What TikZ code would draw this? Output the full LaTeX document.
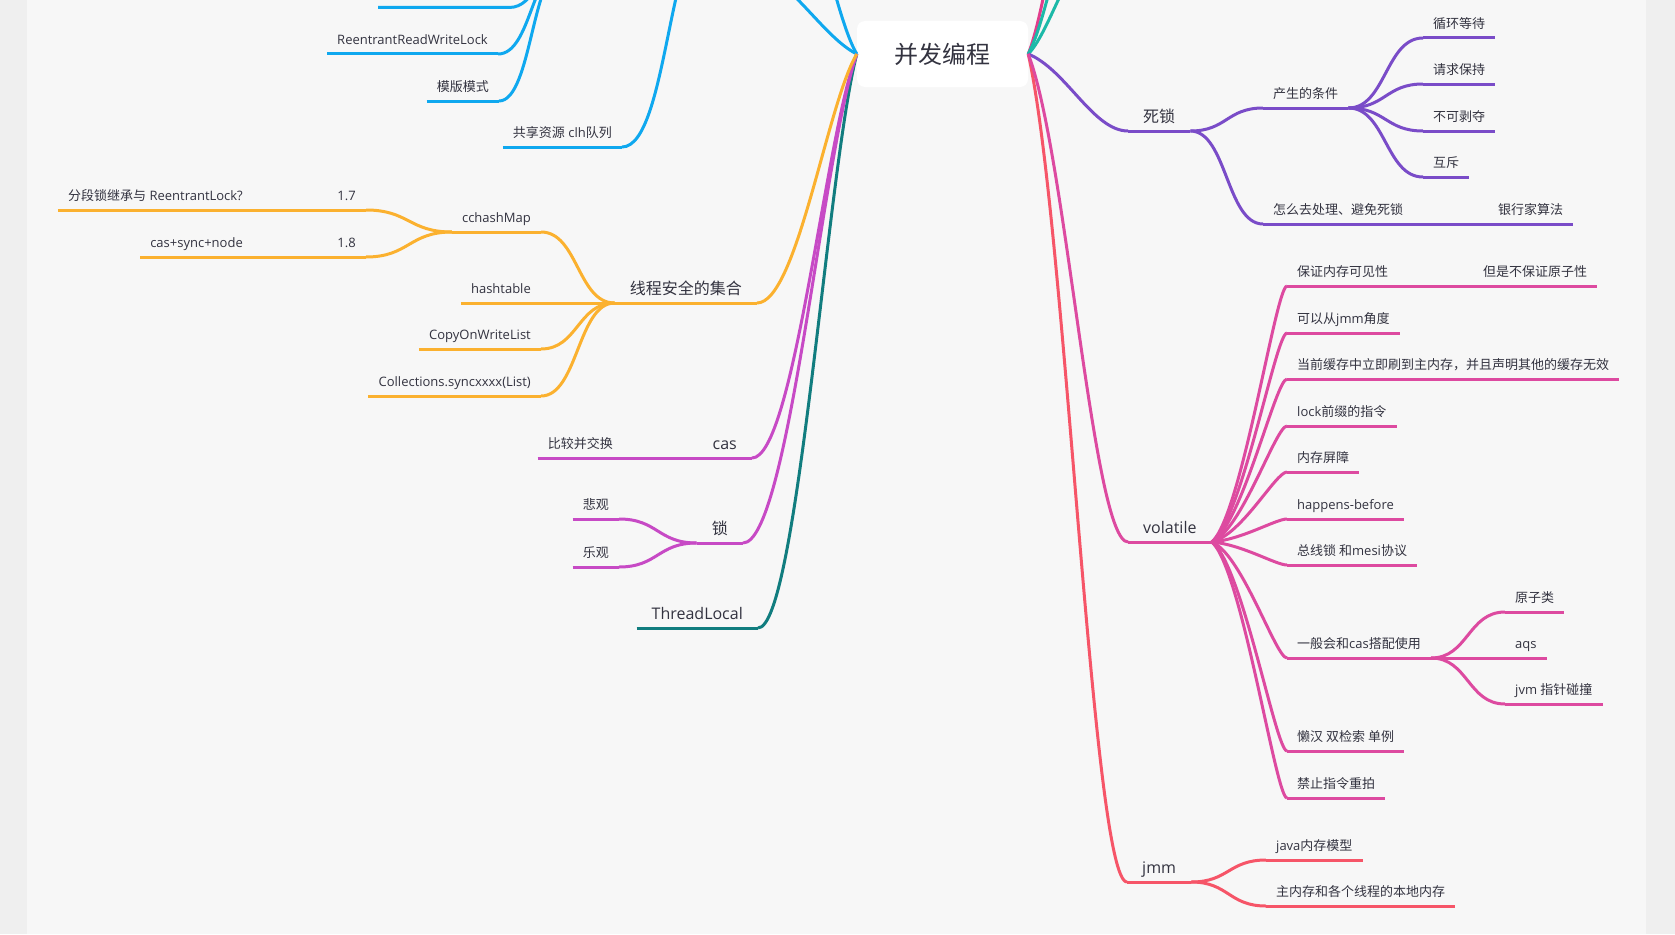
\documentclass[tikz,border=0pt]{standalone}
\usepackage{fontspec}
\setmainfont{Open Sans}
\newfontfamily\zh{Noto Sans CJK SC}
\newcommand\zc[1]{{\zh #1}}
\usetikzlibrary{calc}
\definecolor{cblue}{HTML}{0FA8EF}
\definecolor{corange}{HTML}{FBB12F}
\definecolor{cmag}{HTML}{C74AC5}
\definecolor{cteal}{HTML}{117D7F}
\definecolor{cpurple}{HTML}{7A4CC8}
\definecolor{cpink}{HTML}{DD4AA0}
\definecolor{cred}{HTML}{F65568}
\definecolor{clteal}{HTML}{1CB9A8}
\definecolor{cpinkb}{HTML}{E23D8C}
\definecolor{ctext}{HTML}{333340}
\definecolor{cpanel}{HTML}{F7F7F7}
\definecolor{couter}{HTML}{EFEFEF}
\newcommand\ulx[2]{\draw[ln,#2] (#1.south west) -- (#1.south east);}
\tikzset{
  ln/.style={line width=3pt},
  sm/.style={text=ctext, font=\fontsize{13}{15}\selectfont, inner xsep=10pt, inner ysep=0pt, text height=11pt, text depth=9.5pt},
  md/.style={text=ctext, font=\fontsize{16}{18}\selectfont, inner xsep=15pt, inner ysep=0pt, text height=13pt, text depth=8pt},
  rs/.style={anchor=south west},
  ls/.style={anchor=south east},
  hs/.style={to path={let \p1=(\tikztostart), \p2=(\tikztotarget) in .. controls ({0.5*\x1+0.5*\x2},\y1) and ({0.5*\x1+0.5*\x2},\y2) .. (\tikztotarget)}},
  rc/.style={to path={let \p1=(\tikztostart), \p2=(\tikztotarget) in .. controls ({0.7*\x1+0.3*\x2},{0.8*\y1+0.2*\y2}) and ({0.4*\x1+0.6*\x2},\y2) .. (\tikztotarget)}},
  rcb/.style={to path={let \p1=(\tikztostart), \p2=(\tikztotarget) in .. controls ({0.62*\x1+0.38*\x2},{0.8*\y1+0.2*\y2}) and ({0.35*\x1+0.65*\x2},\y2) .. (\tikztotarget)}},
  fc/.style={to path={let \p1=(\tikztostart), \p2=(\tikztotarget) in .. controls ({0.6*\x1+0.4*\x2},{0.9*\y1+0.1*\y2}) and ({0.15*\x1+0.85*\x2},\y2) .. (\tikztotarget)}},
}
\begin{document}
\begin{tikzpicture}[x=1pt,y=-1pt]
\useasboundingbox (0,0) rectangle (1675,934);
\fill[couter] (0,0) rectangle (1675,934);
\fill[cpanel] (27,0) rectangle (1646,934);
\clip (0,0) rectangle (1675,934);

% root
\node[fill=white, rounded corners=8pt, minimum width=171pt, minimum height=66pt, inner sep=0pt, text=ctext, font=\zh\fontsize{24}{28}\selectfont] (root) at (942.5,54) {并发编程};

% ---------- blue (top left, parents off the picture)
\coordinate (bt1L) at (378,7.5);
\coordinate (bt1R) at (509,7.5);
\coordinate (lockP) at (565,-35);
\coordinate (aqsP) at (715,-80);
\coordinate (blueA) at (730,-40);
\coordinate (blueB) at (775,-150);
\node[sm,ls] (rrwl) at (498,54) {ReentrantReadWriteLock};
\node[sm,ls] (mbms) at (499,101) {\zc{模版模式}};
\node[sm,ls] (gxzy) at (622,147) {\zc{共享资源} clh\zc{队列}};
\draw[ln,cblue] (bt1L) -- (bt1R) to[hs] (lockP);
\ulx{rrwl}{cblue}
\draw[ln,cblue] (rrwl.south east) to[hs] (lockP);
\ulx{mbms}{cblue}
\draw[ln,cblue] (mbms.south east) to[hs] (lockP);
\ulx{gxzy}{cblue}
\draw[ln,cblue] (gxzy.south east) to[hs] (aqsP);
\draw[ln,cblue] (root.west) to[rc] (blueA);
\draw[ln,cblue] (root.west) to[rc] (blueB);

% ---------- top right (parents off the picture)
\coordinate (rp1) at (1110,-250);
\coordinate (rt1) at (1105,-150);
\coordinate (rt2) at (1105,-60);
\draw[ln,cpinkb] (root.east) to[rc] (rp1);
\draw[ln,clteal] (root.east) to[rc] (rt1);
\draw[ln,clteal] (root.east) to[rc] (rt2);

% ---------- orange
\node[md,ls] (xcaq) at (757,303) {\zc{线程安全的集合}};
\node[sm,ls] (cchm) at (541,232) {cchashMap};
\node[sm,ls] (hasht) at (541,303) {hashtable};
\node[sm,ls] (cowl) at (541,349) {CopyOnWriteList};
\node[sm,ls] (colls) at (541,396) {Collections.syncxxxx(List)};
\node[sm,ls] (v17) at (366,210) {1.7};
\node[sm,ls] (v18) at (366,257) {1.8};
\node[sm,ls] (fdsj) at (253,210) {\zc{分段锁继承与} ReentrantLock?};
\node[sm,ls] (csn) at (253,257) {cas+sync+node};
\foreach \q in {xcaq,cchm,hasht,cowl,colls,v17,v18,fdsj,csn} {\ulx{\q}{corange}}
\draw[ln,corange] (cchm.south east) to[hs] (xcaq.south west);
\draw[ln,corange] (hasht.south east) -- (xcaq.south west);
\draw[ln,corange] (cowl.south east) to[hs] (xcaq.south west);
\draw[ln,corange] (colls.south east) to[hs] (xcaq.south west);
\draw[ln,corange] (v17.south east) to[hs] (cchm.south west);
\draw[ln,corange] (v18.south east) to[hs] (cchm.south west);
\draw[ln,corange] (fdsj.south east) -- (v17.south west);
\draw[ln,corange] (csn.south east) -- (v18.south west);

% ---------- magenta
\node[md,ls] (cas) at (752,458) {cas};
\node[sm,ls] (bjbj) at (623,458) {\zc{比较并交换}};
\node[md,ls] (suo) at (743,543) {\zc{锁}};
\node[sm,ls] (bg) at (619,519) {\zc{悲观}};
\node[sm,ls] (lg) at (619,567) {\zc{乐观}};
\foreach \q in {cas,bjbj,suo,bg,lg} {\ulx{\q}{cmag}}
\draw[ln,cmag] (bjbj.south east) -- (cas.south west);
\draw[ln,cmag] (bg.south east) to[hs] (suo.south west);
\draw[ln,cmag] (lg.south east) to[hs] (suo.south west);

% ---------- teal
\node[md,ls] (tl) at (758,628) {ThreadLocal};
\ulx{tl}{cteal}

% left root connectors
\draw[ln,cteal] (root.west) to[rc] (tl.south east);
\draw[ln,cmag] (root.west) to[rc] (suo.south east);
\draw[ln,cmag] (root.west) to[rc] (cas.south east);
\draw[ln,corange] (root.west) to[rc] (xcaq.south east);

% ---------- purple (deadlock)
\node[md,rs] (sisuo) at (1128,131) {\zc{死锁}};
\node[sm,rs] (cstj) at (1263,108) {\zc{产生的条件}};
\node[sm,rs] (xhdd) at (1423,38) {\zc{循环等待}};
\node[sm,rs] (qqbc) at (1423,84) {\zc{请求保持}};
\node[sm,rs] (bkbd) at (1423,131) {\zc{不可剥夺}};
\node[sm,rs] (hc) at (1423,177) {\zc{互斥}};
\node[sm,rs] (zmcl) at (1263,224) {\zc{怎么去处理、避免死锁}};
\node[sm,rs] (yhj) at (1488,224) {\zc{银行家算法}};
\foreach \q in {sisuo,cstj,xhdd,qqbc,bkbd,hc,zmcl,yhj} {\ulx{\q}{cpurple}}
\draw[ln,cpurple] (root.east) to[rcb] (sisuo.south west);
\draw[ln,cpurple] (sisuo.south east) to[hs] (cstj.south west);
\draw[ln,cpurple] (sisuo.south east) to[hs] (zmcl.south west);
\foreach \q in {xhdd,qqbc,bkbd,hc} {\draw[ln,cpurple] (cstj.south east) to[hs] (\q.south west);}
\draw[ln,cpurple] (zmcl.south east) -- (yhj.south west);

% ---------- pink (volatile)
\node[md,rs] (vol) at (1128,542) {volatile};
\node[sm,rs] (bznc) at (1287,286) {\zc{保证内存可见性}};
\node[sm,rs] (bbyz) at (1473,286) {\zc{但是不保证原子性}};
\node[sm,rs] (kyc) at (1287,333) {\zc{可以从}jmm\zc{角度}};
\node[sm,rs] (dqhc) at (1287,379) {\zc{当前缓存中立即刷到主内存，并且声明其他的缓存无效}};
\node[sm,rs] (lockq) at (1287,426) {lock\zc{前缀的指令}};
\node[sm,rs] (ncpz) at (1287,472) {\zc{内存屏障}};
\node[sm,rs] (hb) at (1287,519) {happens-before};
\node[sm,rs] (zxs) at (1287,565) {\zc{总线锁 和}mesi\zc{协议}};
\node[sm,rs] (ybh) at (1287,658) {\zc{一般会和}cas\zc{搭配使用}};
\node[sm,rs] (yzl) at (1505,612) {\zc{原子类}};
\node[sm,rs] (aqs) at (1505,658) {aqs};
\node[sm,rs] (jvm) at (1505,704) {jvm \zc{指针碰撞}};
\node[sm,rs] (lhsj) at (1287,751) {\zc{懒汉 双检索 单例}};
\node[sm,rs] (jzzl) at (1287,798) {\zc{禁止指令重拍}};
\foreach \q in {vol,bznc,bbyz,kyc,dqhc,lockq,ncpz,hb,zxs,ybh,yzl,aqs,jvm,lhsj,jzzl} {\ulx{\q}{cpink}}
\foreach \q in {bznc,kyc,dqhc,lockq,ncpz,hb,zxs,ybh,lhsj,jzzl} {\draw[ln,cpink] (vol.south east) to[fc] (\q.south west);}
\draw[ln,cpink] (bznc.south east) -- (bbyz.south west);
\foreach \q in {yzl,aqs,jvm} {\draw[ln,cpink] (ybh.south east) to[hs] (\q.south west);}

% ---------- red (jmm)
\node[md,rs] (jmm) at (1127,882) {jmm};
\node[sm,rs] (jvnc) at (1266,860) {java\zc{内存模型}};
\node[sm,rs] (znc) at (1266,906) {\zc{主内存和各个线程的本地内存}};
\foreach \q in {jmm,jvnc,znc} {\ulx{\q}{cred}}
\draw[ln,cred] (jmm.south east) to[hs] (jvnc.south west);
\draw[ln,cred] (jmm.south east) to[hs] (znc.south west);

% right root connectors
\draw[ln,cred] (root.east) to[rcb] (jmm.south west);
\draw[ln,cpink] (root.east) to[rcb] (vol.south west);
\end{tikzpicture}
\end{document}
